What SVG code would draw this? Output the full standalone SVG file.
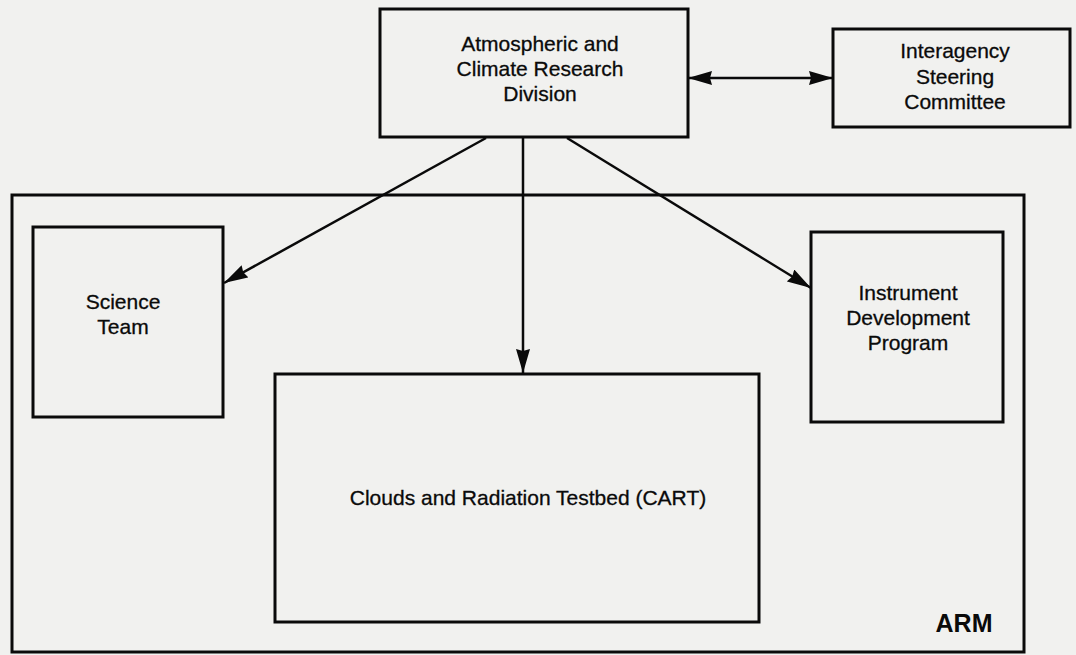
<svg xmlns="http://www.w3.org/2000/svg" width="1076" height="655" viewBox="0 0 1076 655">
  <style>
    .box { fill: none; stroke: #0a0a0a; stroke-width: 3; }
    .lbl { font-family: "Liberation Sans", Arial, sans-serif; font-size: 21px; fill: #0a0a0a; stroke: #0a0a0a; stroke-width: 0.3; text-anchor: middle; }
    .arm { font-family: "Liberation Sans", Arial, sans-serif; font-size: 25px; font-weight: bold; fill: #0a0a0a; text-anchor: middle; }
    .conn { fill: none; stroke: #0a0a0a; stroke-width: 2.5; }
  </style>
  <defs>
    <marker id="ah" viewBox="0 0 24 14" refX="24" refY="7" markerWidth="24" markerHeight="14" markerUnits="userSpaceOnUse" orient="auto-start-reverse">
      <path d="M0,0 L24,7 L0,14 L2,7 Z" fill="#0a0a0a"/>
    </marker>
  </defs>
  <rect x="0" y="0" width="1076" height="655" fill="#f1f1ef"/>

  <g id="arm">
    <rect class="box" x="12" y="195" width="1012" height="457"/>
    <text class="arm" x="964" y="632">ARM</text>
  </g>

  <g id="acrd">
    <rect class="box" x="380" y="9" width="308" height="128"/>
    <text class="lbl" x="540" y="51">Atmospheric and</text>
    <text class="lbl" x="540" y="76">Climate Research</text>
    <text class="lbl" x="540" y="101">Division</text>
  </g>

  <g id="isc">
    <rect class="box" x="833" y="29" width="237" height="98"/>
    <text class="lbl" x="955" y="58">Interagency</text>
    <text class="lbl" x="955" y="84">Steering</text>
    <text class="lbl" x="955" y="109">Committee</text>
  </g>

  <g id="science">
    <rect class="box" x="33" y="227" width="190" height="190"/>
    <text class="lbl" x="123" y="309">Science</text>
    <text class="lbl" x="123" y="334">Team</text>
  </g>

  <g id="idp">
    <rect class="box" x="811" y="232" width="192" height="190"/>
    <text class="lbl" x="908" y="300">Instrument</text>
    <text class="lbl" x="908" y="325">Development</text>
    <text class="lbl" x="908" y="350">Program</text>
  </g>

  <g id="cart">
    <rect class="box" x="275" y="374" width="484" height="248"/>
    <text class="lbl" x="528" y="505">Clouds and Radiation Testbed (CART)</text>
  </g>

  <g id="connectors">
    <line class="conn" x1="688" y1="78" x2="833" y2="78" marker-start="url(#ah)" marker-end="url(#ah)"/>
    <line class="conn" x1="486" y1="138" x2="224" y2="283" marker-end="url(#ah)"/>
    <line class="conn" x1="523" y1="138" x2="523" y2="373" marker-end="url(#ah)"/>
    <line class="conn" x1="567" y1="138" x2="811" y2="288" marker-end="url(#ah)"/>
  </g>
</svg>
